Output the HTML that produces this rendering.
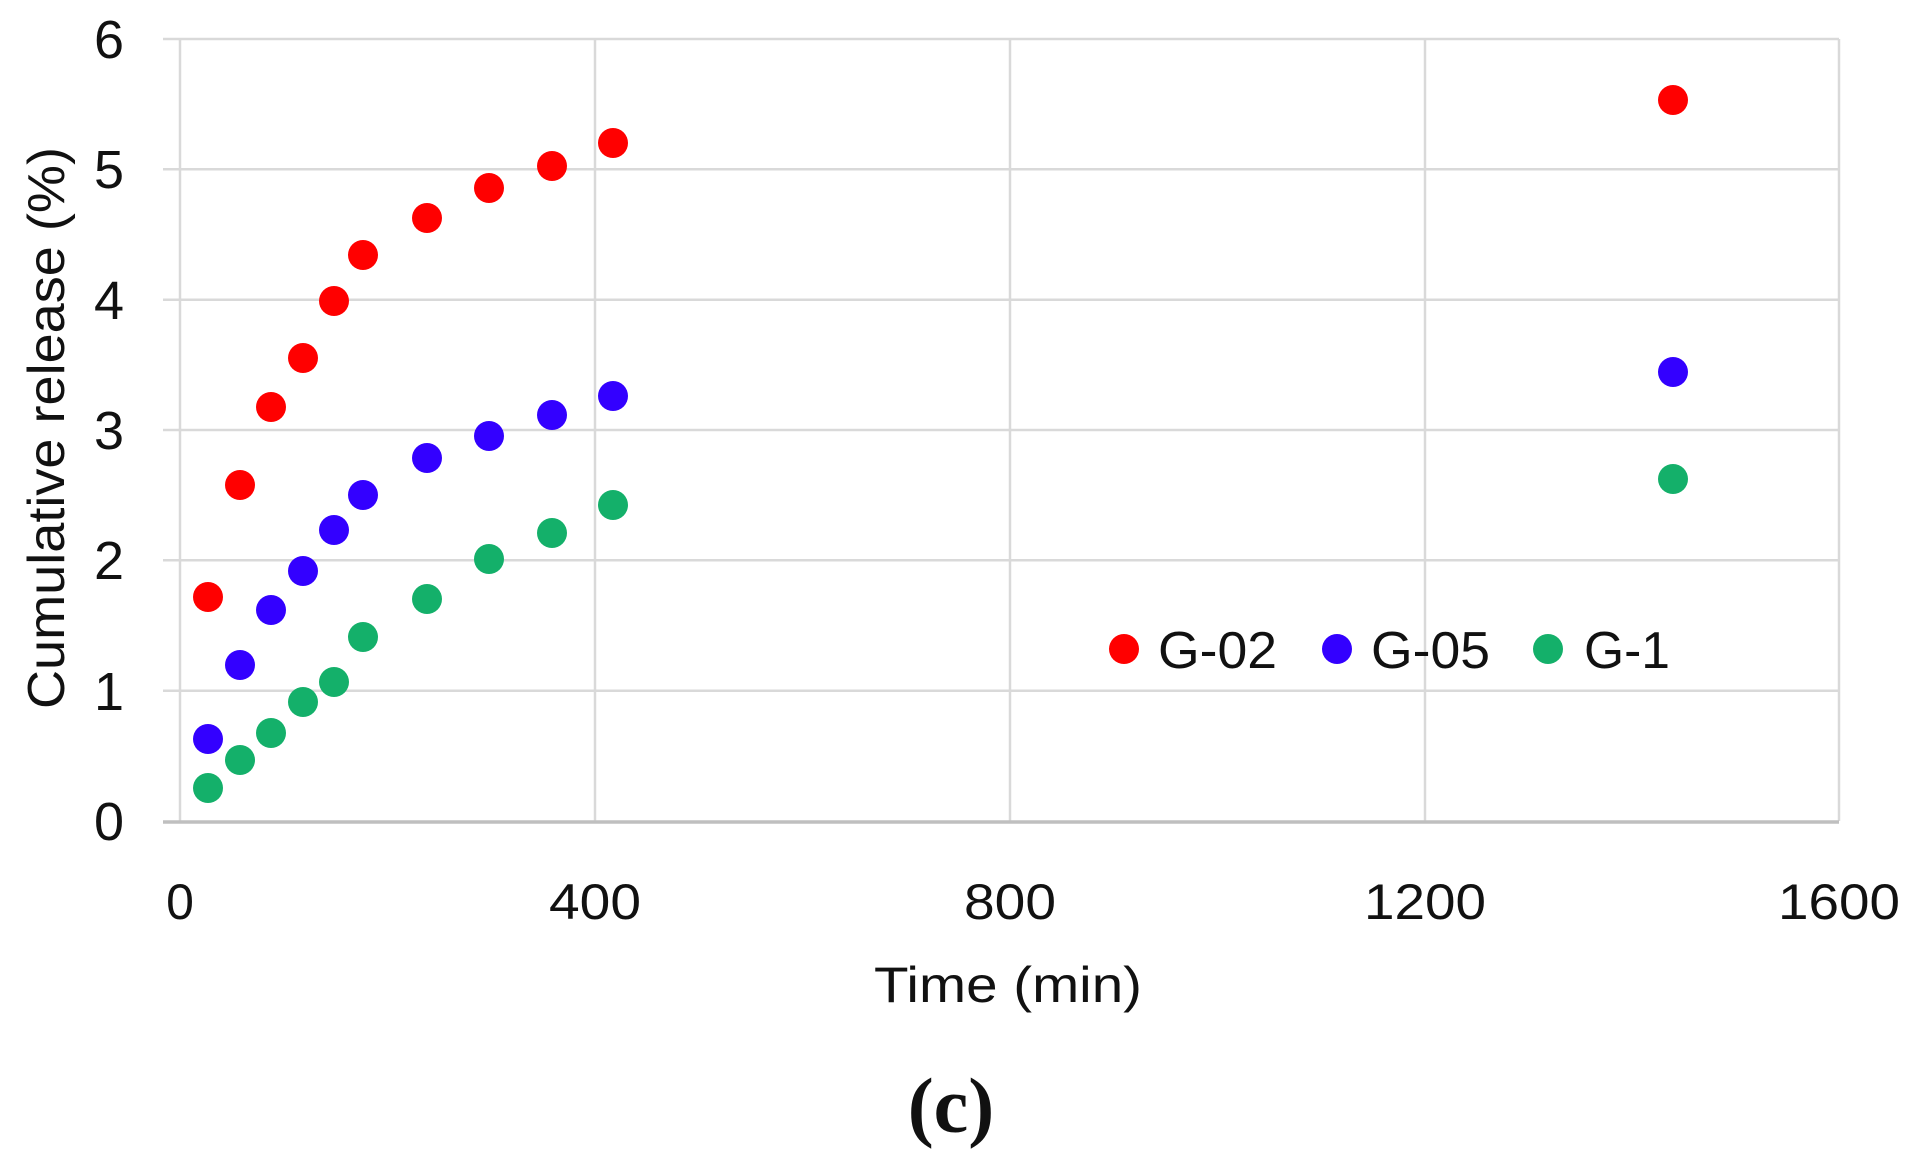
<!DOCTYPE html>
<html><head><meta charset="utf-8"><style>
html,body{margin:0;padding:0;background:#fff;}
svg{display:block;}
text{font-family:"Liberation Sans",sans-serif;fill:#111;}
</style></head><body>
<svg width="1916" height="1171" viewBox="0 0 1916 1171" xmlns="http://www.w3.org/2000/svg">
<g stroke="#d9d9d9" stroke-width="2.5" fill="none">
<line x1="163" y1="39" x2="1839" y2="39"/>
<line x1="163" y1="169.3" x2="1839" y2="169.3"/>
<line x1="163" y1="299.7" x2="1839" y2="299.7"/>
<line x1="163" y1="430" x2="1839" y2="430"/>
<line x1="163" y1="560.3" x2="1839" y2="560.3"/>
<line x1="163" y1="690.7" x2="1839" y2="690.7"/>
<line x1="180" y1="39" x2="180" y2="821"/>
<line x1="595" y1="39" x2="595" y2="821"/>
<line x1="1010" y1="39" x2="1010" y2="821"/>
<line x1="1425" y1="39" x2="1425" y2="821"/>
<line x1="1839" y1="39" x2="1839" y2="821"/>
</g>
<line x1="163" y1="822" x2="1839" y2="822" stroke="#bfbfbf" stroke-width="3.5"/>
<g font-size="54" text-anchor="end">
<text x="124" y="840">0</text><text x="124" y="710">1</text><text x="124" y="579">2</text>
<text x="124" y="449">3</text><text x="124" y="319">4</text><text x="124" y="188">5</text><text x="124" y="58">6</text>
</g>
<g font-size="50" text-anchor="middle">
<text x="180" y="919">0</text><text x="595" y="919" textLength="92" lengthAdjust="spacingAndGlyphs">400</text>
<text x="1010" y="919" textLength="92" lengthAdjust="spacingAndGlyphs">800</text>
<text x="1425" y="919" textLength="122" lengthAdjust="spacingAndGlyphs">1200</text>
<text x="1839" y="919" textLength="122" lengthAdjust="spacingAndGlyphs">1600</text>
<text x="1008" y="1002" textLength="268" lengthAdjust="spacingAndGlyphs">Time (min)</text>
</g>
<text transform="translate(64,428) rotate(-90)" font-size="52" text-anchor="middle" textLength="562" lengthAdjust="spacingAndGlyphs">Cumulative release (%)</text>
<text x="951" y="1132" font-size="78" font-weight="bold" text-anchor="middle" style="font-family:'Liberation Serif',serif">(c)</text>
<g fill="#ff0000">
<circle cx="208" cy="597" r="15"/><circle cx="240" cy="485" r="15"/><circle cx="271" cy="407" r="15"/><circle cx="303" cy="358" r="15"/><circle cx="334" cy="301" r="15"/><circle cx="363" cy="255" r="15"/><circle cx="427" cy="218" r="15"/><circle cx="489" cy="188" r="15"/><circle cx="552" cy="166" r="15"/><circle cx="613" cy="143" r="15"/><circle cx="1673" cy="100" r="15"/>
<circle cx="1124" cy="649" r="15"/>
</g>
<g fill="#3300ff">
<circle cx="208" cy="739" r="15"/><circle cx="240" cy="665" r="15"/><circle cx="271" cy="610" r="15"/><circle cx="303" cy="571" r="15"/><circle cx="334" cy="530" r="15"/><circle cx="363" cy="495" r="15"/><circle cx="427" cy="458" r="15"/><circle cx="489" cy="436" r="15"/><circle cx="552" cy="415" r="15"/><circle cx="613" cy="396" r="15"/><circle cx="1673" cy="372" r="15"/>
<circle cx="1337" cy="649" r="15"/>
</g>
<g fill="#14b06a">
<circle cx="208" cy="788" r="15"/><circle cx="240" cy="760" r="15"/><circle cx="271" cy="733" r="15"/><circle cx="303" cy="702" r="15"/><circle cx="334" cy="682" r="15"/><circle cx="363" cy="637" r="15"/><circle cx="427" cy="599" r="15"/><circle cx="489" cy="559" r="15"/><circle cx="552" cy="533" r="15"/><circle cx="613" cy="505" r="15"/><circle cx="1673" cy="479" r="15"/>
<circle cx="1548" cy="649" r="15"/>
</g>
<g font-size="52">
<text x="1158" y="668" textLength="119" lengthAdjust="spacingAndGlyphs">G-02</text>
<text x="1371" y="668" textLength="119" lengthAdjust="spacingAndGlyphs">G-05</text>
<text x="1584" y="668" textLength="86" lengthAdjust="spacingAndGlyphs">G-1</text>
</g>
</svg>
</body></html>
